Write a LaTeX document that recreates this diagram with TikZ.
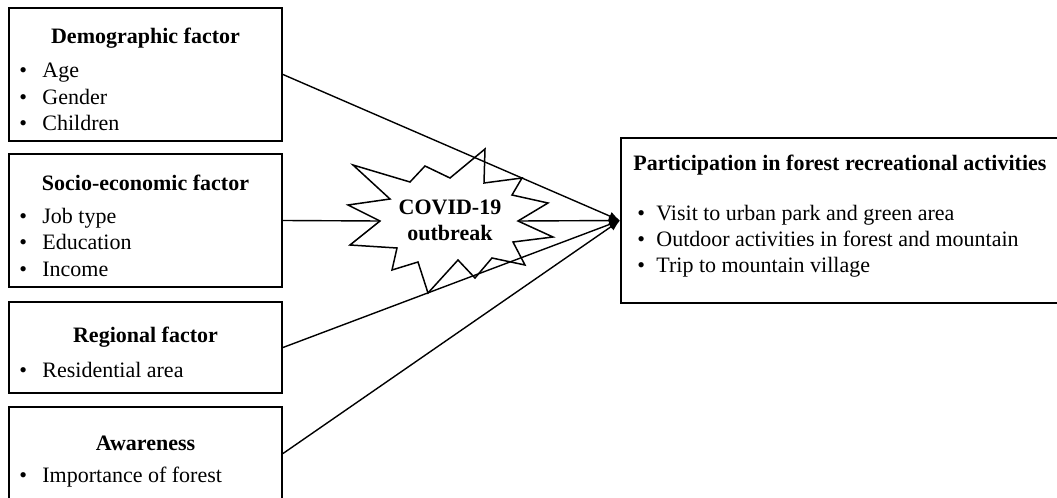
\documentclass[tikz,border=0pt]{standalone}
\usepackage{fontspec}
\setmainfont{Liberation Serif}
\usetikzlibrary{arrows.meta}

% bullet with a fixed gap before the item text
\newcommand{\bitem}[1][11.5pt]{\makebox[#1][l]{\textbullet}}

\begin{document}
\begin{tikzpicture}[x=0.5pt,y=-0.5pt,
		factor/.style={draw, line width=1pt, minimum width=136.5pt, inner sep=0pt},
		head/.style={inner sep=0pt, font=\fontsize{11}{13}\selectfont\bfseries},
		items/.style={anchor=west, align=left, inner sep=0pt, font=\fontsize{11}{13.25}\selectfont},
		link/.style={line width=0.7pt, -{Latex[length=5.5pt,width=4.5pt]}}]
	\useasboundingbox (0,0) rectangle (1057,498);
	\clip (0,0) rectangle (1057,498);

	% factor boxes
	\node[factor, minimum height=66.5pt] (demo) at (145.5,74.5){};
		\node[head] (demoT) at (145.5,38){Demographic factor};
		\node[items] (demoL) at (19,97){\bitem Age\\ \bitem Gender\\ \bitem Children};
	\node[factor, minimum height=66.5pt] (socio) at (145.5,220.5){};
		\node[head] (socioT) at (145.5,183){Socio-economic factor};
		\node[items] (socioL) at (19,242){\bitem Job type\\ \bitem Education\\ \bitem Income};
	\node[factor, minimum height=45.5pt] (region) at (145.5,347.5){};
		\node[head] (regionT) at (145.5,337){Regional factor};
		\node[items] (regionL) at (19,370){\bitem Residential area};
	\node[factor, minimum height=46.5pt] (aware) at (145.5,453.5){};
		\node[head] (awareT) at (145.5,443){Awareness};
		\node[items] (awareL) at (19,477){\bitem Importance of forest};

	% outcome box
	\node[factor, minimum width=220.5pt, minimum height=82.5pt] (partic) at (841.5,220.5){};
		\node[head, anchor=west] (particT) at (633,165){Participation in forest recreational activities};
		\node[items, font=\fontsize{11}{13}\selectfont] (particL) at (637,241.5){\bitem[9.5pt]Visit to urban park and green area\\
			\bitem[9.5pt]Outdoor activities in forest and mountain\\ \bitem[9.5pt]Trip to mountain village};

	% covid star
	\coordinate (covidW) at (380,221);
	\coordinate (covidE) at (518,221);
	\draw[line width=0.75pt, fill=white] (485,149) -- (484,183) -- (522,178) -- (512,195) -- (548,203)
		-- (covidE) -- (553,237) -- (513,242) -- (525,265) -- (492,258) -- (475,278) -- (458,260)
		-- (428,293) -- (418,262) -- (392,270) -- (397,248) -- (350,245) -- (covidW) -- (348,205)
		-- (390,199) -- (353,165) -- (410,182) -- (425,166) -- (450,178) -- cycle;
	\node[head, align=center] (covid) at (450,220){COVID-19\\ outbreak};

	% connectors
	\draw[link] (demo.east) -- (partic.west);
	\draw[line width=0.7pt] (socio.east) -- (covidW);
	\draw[link] (covidE) -- (partic.west);
	\draw[link] (region.east) -- (partic.west);
	\draw[link] (aware.east) -- (partic.west);
\end{tikzpicture}
\end{document}
